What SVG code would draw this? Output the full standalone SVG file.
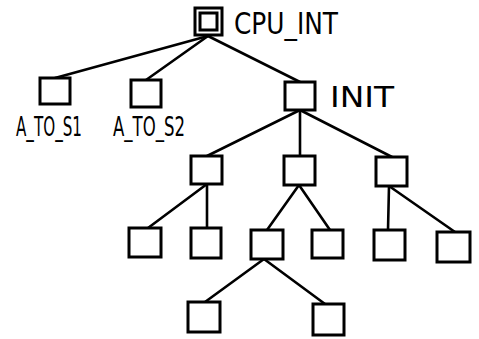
<svg xmlns="http://www.w3.org/2000/svg" width="479" height="339" viewBox="0 0 479 339">
<style>
.box{fill:#fff;stroke:#000;stroke-width:3}
.edge{stroke:#000;stroke-width:2.6;fill:none;stroke-linecap:round}
.lbl{font-family:"Liberation Sans Narrow","DejaVu Sans Condensed","Liberation Sans",sans-serif;fill:#000}
</style>
<rect width="479" height="339" fill="#fff"/>
<g id="connectors">
<line class="edge" x1="208" y1="36" x2="55" y2="78"/>
<line class="edge" x1="208" y1="36" x2="146" y2="80"/>
<line class="edge" x1="208" y1="36" x2="300" y2="82"/>
<line class="edge" x1="300" y1="110" x2="207" y2="156"/>
<line class="edge" x1="300" y1="110" x2="300" y2="156"/>
<line class="edge" x1="300" y1="110" x2="392" y2="157"/>
<line class="edge" x1="207" y1="184" x2="148" y2="228"/>
<line class="edge" x1="207" y1="184" x2="207" y2="228"/>
<line class="edge" x1="299" y1="185" x2="267" y2="230"/>
<line class="edge" x1="299" y1="185" x2="330" y2="230"/>
<line class="edge" x1="389" y1="186" x2="388" y2="230"/>
<line class="edge" x1="389" y1="186" x2="455" y2="232"/>
<line class="edge" x1="264" y1="259" x2="205" y2="302"/>
<line class="edge" x1="264" y1="259" x2="325" y2="304"/>
</g>
<g id="cpu_int">
<rect class="box" x="195" y="8" width="27" height="27"/>
<rect class="box" x="200" y="13" width="17" height="17" stroke-width="2.5"/>
<text class="lbl" x="234" y="34" font-size="31" textLength="104" lengthAdjust="spacingAndGlyphs">CPU_INT</text>
</g>
<g id="a_to_s1">
<rect class="box" x="40" y="78" width="30" height="26"/>
<text class="lbl" x="16" y="136" font-size="27" textLength="66" lengthAdjust="spacingAndGlyphs">A_TO_S1</text>
</g>
<g id="a_to_s2">
<rect class="box" x="131" y="80" width="30" height="27"/>
<text class="lbl" x="113" y="136" font-size="27" textLength="72" lengthAdjust="spacingAndGlyphs">A_TO_S2</text>
</g>
<g id="init">
<rect class="box" x="285" y="82" width="30" height="28"/>
<text class="lbl" x="330" y="107" font-size="29" textLength="64" lengthAdjust="spacingAndGlyphs">INIT</text>
</g>
<g id="n_a"><rect class="box" x="191" y="156" width="31" height="28"/></g>
<g id="n_b"><rect class="box" x="284" y="156" width="31" height="29"/></g>
<g id="n_c"><rect class="box" x="376" y="157" width="31" height="29"/></g>
<g id="n_a1"><rect class="box" x="129" y="228" width="32" height="29"/></g>
<g id="n_a2"><rect class="box" x="191" y="228" width="30" height="30"/></g>
<g id="n_b1"><rect class="box" x="251" y="230" width="32" height="29"/></g>
<g id="n_b2"><rect class="box" x="312" y="230" width="31" height="28"/></g>
<g id="n_c1"><rect class="box" x="374" y="230" width="31" height="30"/></g>
<g id="n_c2"><rect class="box" x="437" y="232" width="33" height="30"/></g>
<g id="n_b1a"><rect class="box" x="188" y="302" width="32" height="30"/></g>
<g id="n_b1b"><rect class="box" x="313" y="304" width="31" height="31"/></g>
</svg>
